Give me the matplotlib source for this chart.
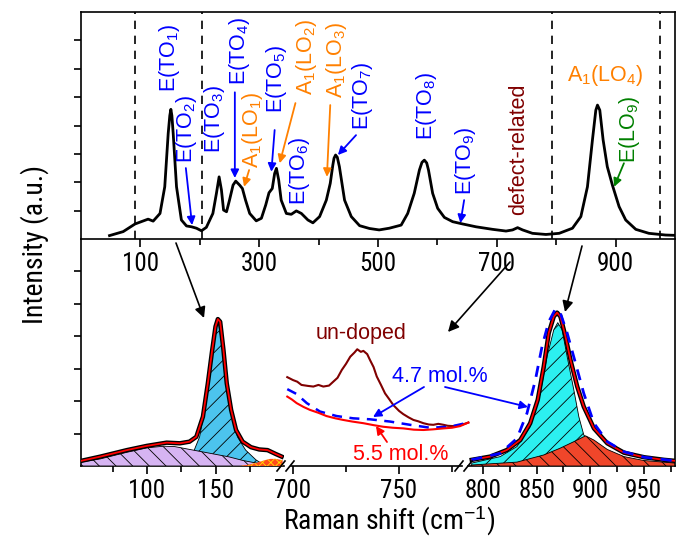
import matplotlib
matplotlib.use('Agg')
import matplotlib.pyplot as plt
from matplotlib import font_manager as fm
from matplotlib.patches import FancyArrowPatch
from matplotlib.lines import Line2D

# ---------------- data ----------------
top_shift = [48, 71, 91, 113, 121.5, 133, 141, 146.8, 149.5, 151.3, 153, 155.2, 160.8, 169, 177.6, 186, 194.4,
             202.8, 211, 222, 228, 232.5, 236.4, 240, 245, 250, 256, 260.5, 267, 271.7, 277, 284, 295, 303.7,
             311, 316.5, 322, 326, 329, 332.8, 337, 345.7, 354, 362.5, 371, 382, 390.4, 401.7, 413, 419.6, 424,
             426, 428.6, 431.5, 435, 443.7, 455, 469, 485.7, 502, 519, 539, 550, 561, 569.7, 574, 578, 582, 585,
             592, 600.5, 611.8, 625.7, 642.5, 665, 693, 715.5, 726.6, 735, 743.4, 760, 782.7, 805, 827.4, 841.5,
             852.6, 861, 866.7, 869.5, 873.4, 879, 886, 894.6, 905.9, 917, 934, 956, 984, 998]
top_int = [0.12, 0.26, 0.53, 0.70, 0.63, 0.90, 1.84, 3.72, 4.35, 4.57, 4.35, 3.72, 1.84, 0.67, 0.46, 0.43, 0.38,
           0.29, 0.41, 0.90, 1.61, 2.19, 1.73, 1.02, 0.96, 1.37, 1.90, 2.04, 1.90, 1.78, 1.37, 0.90, 0.64, 0.73,
           1.20, 1.63, 1.78, 2.31, 2.49, 2.08, 1.37, 0.90, 0.87, 0.99, 0.90, 0.67, 0.57, 0.79, 1.37, 1.96, 2.61,
           2.85, 2.96, 2.88, 2.55, 1.37, 0.79, 0.47, 0.37, 0.32, 0.38, 0.49, 0.90, 1.61, 2.43, 2.70, 2.78, 2.68, 2.43,
           1.61, 1.08, 0.76, 0.61, 0.53, 0.43, 0.34, 0.28, 0.32, 0.40, 0.32, 0.20, 0.16, 0.20, 0.38, 0.79,
           1.84, 3.49, 4.54, 4.72, 4.54, 3.49, 2.55, 1.90, 1.14, 0.67, 0.34, 0.20, 0.14, 0.13]
dash_positions = [91, 203, 793, 975]

# low-frequency region (bottom left)
low_x = [52, 66, 85.3, 99.8, 114.3, 124, 131, 136, 140.8, 144.4, 147.6, 150, 151.7, 153.4, 155.8, 158.2,
         161.4, 165, 169.8, 175.9, 181.9, 188, 194, 198.3]
low_total = [0.16, 0.29, 0.49, 0.62, 0.72, 0.70, 0.75, 0.90, 1.52, 2.55, 3.58, 4.30, 4.53, 4.45, 3.58, 2.55,
             1.73, 1.11, 0.75, 0.58, 0.51, 0.49, 0.37, 0.29]
purple_x = [52, 66, 85, 100, 112, 120, 130, 140, 150, 160, 170, 180, 190, 199]
purple_y = [0.12, 0.22, 0.42, 0.56, 0.61, 0.60, 0.52, 0.44, 0.36, 0.28, 0.17, 0.09, 0.05, 0.03]
blue_x = [110, 120, 128, 133.5, 138.4, 143.3, 147, 150.5, 152, 155.3, 157.7, 161.4, 166, 172, 179.5, 184, 190, 199]
blue_y = [0.05, 0.12, 0.25, 0.39, 0.90, 2.04, 3.27, 4.30, 4.45, 3.58, 2.55, 1.63, 0.90, 0.49, 0.19, 0.07, 0.02, 0.0]
orange_x = [168, 174, 180, 186, 190, 194, 199]
orange_y = [0.0, 0.04, 0.10, 0.18, 0.22, 0.22, 0.18]

# defect region (bottom middle)
undoped_x = [697.3, 700, 702, 704, 707, 709.6, 712, 714.3, 717, 719, 721, 723, 725, 727, 729, 730.3, 732, 733.2,
             735, 736.3, 738, 739.5, 741.5, 743.4, 745.5, 747.3, 750, 752, 754.5, 756.8, 759, 761.5, 764, 766.2,
             768.5, 771, 773, 775.6, 777.5, 779.6, 782.7]
undoped_y = [2.74, 2.65, 2.60, 2.50, 2.47, 2.45, 2.50, 2.45, 2.48, 2.60, 2.72, 2.96, 3.15, 3.37, 3.50, 3.60, 3.52,
             3.55, 3.45, 3.27, 3.05, 2.76, 2.50, 2.24, 2.05, 1.88, 1.70, 1.60, 1.50, 1.42, 1.38, 1.32, 1.28, 1.27,
             1.30, 1.27, 1.24, 1.23, 1.25, 1.27, 1.34]
doped47_x = [697.3, 701.7, 706.5, 712.7, 720.6, 728.4, 736.3, 745.8, 755.2, 764.6, 774, 782.7]
doped47_y = [2.37, 2.22, 1.94, 1.68, 1.54, 1.47, 1.44, 1.37, 1.27, 1.18, 1.21, 1.34]
doped55_x = [697.3, 699.5, 701.7, 705, 708, 712, 715.8, 720, 723.7, 728, 733.2, 738, 742.6, 747, 752, 757,
             761.5, 766, 771, 775, 778.8, 782.7]
doped55_y = [2.14, 2.05, 1.94, 1.82, 1.73, 1.64, 1.54, 1.47, 1.42, 1.37, 1.32, 1.26, 1.21, 1.18, 1.16, 1.12,
             1.11, 1.13, 1.16, 1.18, 1.23, 1.34]

# high-frequency region (bottom right)
high_x = [789.4, 806.6, 822, 834.7, 844, 851, 856.6, 861.3, 866, 869.1, 872.2, 876.9, 881.6, 887.9, 894, 903.5,
          916, 931.6, 950.4, 969, 979]
high_total = [0.19, 0.29, 0.49, 0.80, 1.32, 2.04, 3.06, 4.10, 4.61, 4.73, 4.61, 4.00, 3.27, 2.45, 1.83, 1.16,
              0.70, 0.41, 0.27, 0.19, 0.16]
high47_x = [789, 816, 831.6, 841, 848.8, 855, 861.3, 867.5, 872.2, 878.5, 886.3, 894, 903.5, 916, 931.6, 950.4, 979]
high47_y = [0.19, 0.39, 0.85, 1.63, 2.65, 3.68, 4.45, 4.84, 4.71, 4.10, 3.17, 2.24, 1.32, 0.75, 0.44, 0.27, 0.16]
cyan_x = [789.4, 816, 831.6, 844, 853.4, 859.7, 866, 869.7, 873.8, 878.5, 884.7, 889.4, 894, 905, 920, 940, 979]
cyan_y = [0.09, 0.29, 0.60, 1.21, 2.24, 3.37, 4.20, 4.42, 4.20, 3.37, 2.35, 1.52, 0.96, 0.55, 0.30, 0.15, 0.05]
red_x = [789, 831.6, 856.6, 872, 884.7, 895.7, 903.5, 916, 931.6, 950, 979]
red_y = [0.03, 0.12, 0.34, 0.55, 0.75, 0.93, 0.80, 0.51, 0.29, 0.17, 0.09]

# ---------------- style ----------------
names = {f.name for f in fm.fontManager.ttflist}
SANS = 'Liberation Sans' if 'Liberation Sans' in names else 'DejaVu Sans'
NARROW = SANS
for cand in ('Liberation Sans Narrow', 'Arial Narrow', 'Roboto Condensed', 'Archivo Narrow'):
    if cand in names:
        NARROW = cand
        break
TICK_SIZE = 18 if NARROW != SANS else 15
LABEL_SIZE = 20 if NARROW != SANS else 17
plt.rcParams['font.family'] = SANS
plt.rcParams['mathtext.fontset'] = 'custom'
plt.rcParams['mathtext.rm'] = SANS
plt.rcParams['mathtext.it'] = SANS + ':italic'
plt.rcParams['hatch.linewidth'] = 0.6
plt.rcParams['axes.linewidth'] = 1.2

BLUE = '#0000ff'
ORANGE = '#ff8000'
DRED = '#800000'
GREEN = '#008000'
RED = '#ff0000'
ANN = 15.5

W, H = 682, 540
fig = plt.figure(figsize=(W / 100, H / 100), dpi=100)


def rect(l, t, r, b):
    return [l / W, 1 - b / H, (r - l) / W, (b - t) / H]


def fpt(x, y):
    return (x / W, 1 - y / H)


def farrow(p0, p1, color='k', lw=1.2, ms=16):
    fig.add_artist(FancyArrowPatch(fpt(*p0), fpt(*p1), transform=fig.transFigure, arrowstyle='-|>',
                                   mutation_scale=ms, color=color, lw=lw, shrinkA=0, shrinkB=0))


# ---------------- top panel ----------------
ax = fig.add_axes(rect(81, 12, 675, 239))
ax.plot(top_shift, top_int, color='k', lw=2)
for xv in dash_positions:
    ax.axvline(xv, color='k', ls=(0, (5, 4)), lw=1.2)
ax.set_xlim(0, 1000)
ax.set_ylim(0, 8)
ax.set_xticks([100, 300, 500, 700, 900])
ax.set_xticks([200, 400, 600, 800], minor=True)
ax.set_yticks(range(1, 8))
ax.set_yticklabels([])
ax.tick_params(axis='x', which='major', direction='out', length=6, width=1.2, pad=3,
               labelsize=TICK_SIZE, labelfontfamily=NARROW)
ax.tick_params(axis='x', which='minor', direction='out', length=4, width=1.2)
ax.tick_params(axis='y', direction='out', length=5, width=1.2)

rot_labels = [
    (r'$\mathrm{E(TO_1)}$', 149.6, 5.18, BLUE, None),
    (r'$\mathrm{E(TO_2)}$', 177.6, 2.67, BLUE, ((176.5, 2.5), (187, 0.49))),
    (r'$\mathrm{E(TO_3)}$', 225, 3.03, BLUE, None),
    (r'$\mathrm{E(TO_4)}$', 267, 5.42, BLUE, ((259, 5.17), (259, 2.15))),
    (r'$\mathrm{A_1(LO_1)}$', 289, 2.5, ORANGE, ((283, 2.43), (274.5, 1.84))),
    (r'$\mathrm{E(TO_5)}$', 329, 4.43, BLUE, ((326, 3.84), (320.5, 2.37))),
    (r'$\mathrm{A_1(LO_2)}$', 379, 5.07, ORANGE, ((361, 4.79), (334.5, 2.67))),
    (r'$\mathrm{A_1(LO_3)}$', 430, 4.96, ORANGE, ((419.6, 4.72), (414, 2.19))),
    (r'$\mathrm{E(TO_6)}$', 368, 1.2, BLUE, None),
    (r'$\mathrm{E(TO_7)}$', 474.5, 3.84, BLUE, ((463, 3.66), (432.5, 2.96))),
    (r'$\mathrm{E(TO_8)}$', 581, 3.49, BLUE, None),
    (r'$\mathrm{E(TO_9)}$', 647, 1.55, BLUE, ((645, 1.37), (638.7, 0.56))),
    ('defect-related', 736.7, 0.85, DRED, None),
    (r'$\mathrm{E(LO_9)}$', 922.7, 2.67, GREEN, ((914, 2.67), (897.5, 1.84))),
]
for txt, x, y, c, arr in rot_labels:
    ax.text(x, y, txt, rotation=90, ha='center', va='bottom', color=c, fontsize=ANN)
    if arr is not None:
        ax.annotate('', xy=arr[1], xytext=arr[0],
                    arrowprops=dict(arrowstyle='-|>', color=c, lw=1.3, mutation_scale=12,
                                    shrinkA=0, shrinkB=0))
ax.text(882.4, 5.77, r'$\mathrm{A_1(LO_4)}$', ha='center', va='center', color=ORANGE, fontsize=ANN)

# ---------------- bottom panels ----------------
a1 = fig.add_axes(rect(81, 239, 284, 466))
a2 = fig.add_axes(rect(291, 239, 462, 466))
a3 = fig.add_axes(rect(468, 239, 675, 466))
for a in (a1, a2, a3):
    a.set_ylim(0, 7)
    a.patch.set_alpha(0)
    a.spines['top'].set_visible(False)
    a.tick_params(axis='x', which='major', direction='out', length=6, width=1.2, pad=3,
                  labelsize=TICK_SIZE, labelfontfamily=NARROW)
    a.tick_params(axis='x', which='minor', direction='out', length=4, width=1.2)
a1.spines['right'].set_visible(False)
a2.spines['right'].set_visible(False)
a2.spines['left'].set_visible(False)
a3.spines['left'].set_visible(False)
a1.set_yticks(range(1, 7))
a1.set_yticklabels([])
a1.tick_params(axis='y', direction='out', length=5, width=1.2)
a2.set_yticks([])
a3.set_yticks([])

a1.set_xlim(51.8, 200)
a1.set_xticks([100, 150])
a1.set_xticks([75, 125, 175], minor=True)
a1.fill_between(blue_x, 0, blue_y, facecolor='#4cc4ee', edgecolor='k', hatch='//', lw=0.6, zorder=2)
a1.fill_between(purple_x, 0, purple_y, facecolor='#d6b4f2', edgecolor='k', hatch='\\\\', lw=0.6, zorder=3)
a1.fill_between(orange_x, 0, orange_y, facecolor='#ff4a1a', edgecolor='#ffe000', hatch='xxxx', lw=0, zorder=4)
a1.plot(low_x, low_total, color='k', lw=3.2, zorder=5)
a1.plot(low_x, low_total, color=RED, lw=1.3, zorder=6)

a2.set_xlim(699.06, 779.7)
a2.set_xticks([700, 750])
a2.set_xticks([725, 775], minor=True)
a2.plot(undoped_x, undoped_y, color=DRED, lw=1.5, clip_on=False)
a2.plot(doped47_x, doped47_y, color=BLUE, lw=1.8, ls=(0, (4, 3)), clip_on=False)
a2.plot(doped55_x, doped55_y, color=RED, lw=1.5, clip_on=False)

a3.set_xlim(785.9, 979.2)
a3.set_xticks([800, 850, 900, 950])
a3.set_xticks([825, 875, 925, 975], minor=True)
a3.fill_between(cyan_x, 0, cyan_y, facecolor='#2cf0f0', edgecolor='k', hatch='//', lw=0.6, zorder=2)
a3.fill_between(red_x, 0, red_y, facecolor='#f0462a', edgecolor='k', hatch='\\\\', lw=0.6, zorder=3)
a3.plot(high_x, high_total, color='k', lw=3.2, zorder=5)
a3.plot(high_x, high_total, color=RED, lw=1.3, zorder=6)
a3.plot(high47_x, high47_y, color=BLUE, lw=2, ls=(0, (4, 3)), zorder=7)

# axis breaks
for cx in (281, 290, 459, 468):
    fig.add_artist(Line2D([(cx - 4) / W, (cx + 4) / W], [1 - 471 / H, 1 - 461 / H], color='k', lw=1.2,
                          transform=fig.transFigure))

# bottom annotations
fig.text(*fpt(361, 334), 'un-doped', color=DRED, ha='center', va='center', fontsize=ANN)
fig.text(*fpt(440, 376), '4.7 mol.%', color=BLUE, ha='center', va='center', fontsize=ANN)
fig.text(*fpt(400.5, 455), '5.5 mol.%', color=RED, ha='center', va='center', fontsize=ANN)
farrow((424, 387), (373, 417), color=BLUE, lw=1.3, ms=12)
farrow((445, 387), (528, 407), color=BLUE, lw=1.3, ms=12)
farrow((387, 442), (376, 426), color=RED, lw=1.3, ms=12)

# big arrows from the overview to the zooms
farrow((176, 243), (204, 318))
farrow((510, 262), (448, 332))
farrow((582, 246), (565, 312))

# axis titles
fig.text(*fpt(389, 521), r'Raman shift (cm$^{-1}$)', ha='center', va='center',
         family=NARROW, fontsize=LABEL_SIZE)
fig.text(*fpt(35, 245), 'Intensity (a.u.)', rotation=90, ha='center', va='center',
         family=NARROW, fontsize=LABEL_SIZE)

fig.savefig('out.png', dpi=100)
